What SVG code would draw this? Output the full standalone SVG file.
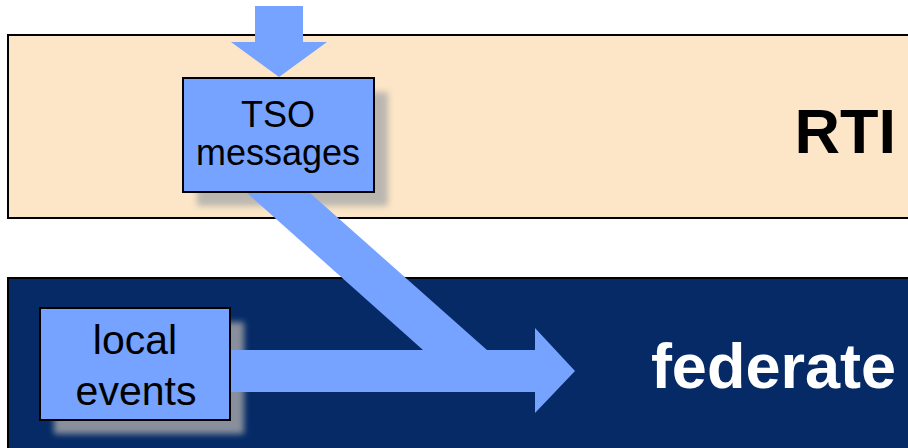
<svg xmlns="http://www.w3.org/2000/svg" width="908" height="448" viewBox="0 0 908 448">
  <style>
    .box { fill: #75A3FF; stroke: #000; stroke-width: 2; }
    .shadow { fill: #AAAAAA; opacity: 0.8; filter: url(#soft); }
    .label { font-family: "Liberation Sans", Arial, sans-serif; font-size: 36px; fill: #000; text-anchor: middle; }
    .label.big { font-size: 41px; }
    .band-title { font-family: "Liberation Sans", Arial, sans-serif; font-size: 63px; font-weight: bold; text-anchor: end; }
    .flow { fill: #75A3FF; }
  </style>
  <defs>
    <filter id="soft" x="-20%" y="-20%" width="140%" height="140%">
      <feGaussianBlur stdDeviation="3"/>
    </filter>
  </defs>

  <rect width="908" height="448" fill="#FFFFFF"/>

  <!-- RTI layer -->
  <g id="rti">
    <rect x="8" y="35" width="910" height="183" fill="#FDE6C7" stroke="#000" stroke-width="2"/>
    <text class="band-title" x="896" y="153" fill="#000">RTI</text>
  </g>

  <!-- federate layer -->
  <g id="federate">
    <rect x="8" y="278" width="910" height="180" fill="#052A66" stroke="#000" stroke-width="2"/>
    <text class="band-title" x="896" y="388" fill="#FFFFFF">federate</text>
  </g>

  <!-- drop shadows under the boxes -->
  <rect class="shadow" x="197" y="92" width="191" height="114"/>
  <rect class="shadow" x="54" y="322" width="190" height="112"/>

  <!-- connectors -->
  <g id="connectors">
    <!-- incoming TSO arrow -->
    <polygon class="flow" points="255,6 303,6 303,42 327,42 279,77 231,42 255,42"/>
    <!-- TSO messages into the federate flow -->
    <polygon class="flow" points="247,193 310,193 487,350 423,350"/>
    <!-- local events flow -->
    <polygon class="flow" points="231,350 535,350 535,328 575,371 535,413 535,392 231,392"/>
  </g>

  <!-- TSO messages node -->
  <g id="tso-messages">
    <rect class="box" x="183" y="78" width="191" height="114"/>
    <text class="label" x="278" y="127">TSO</text>
    <text class="label" x="278" y="165">messages</text>
  </g>

  <!-- local events node -->
  <g id="local-events">
    <rect class="box" x="40" y="308" width="190" height="112"/>
    <text class="label big" x="135" y="354">local</text>
    <text class="label big" x="136" y="405">events</text>
  </g>
</svg>
